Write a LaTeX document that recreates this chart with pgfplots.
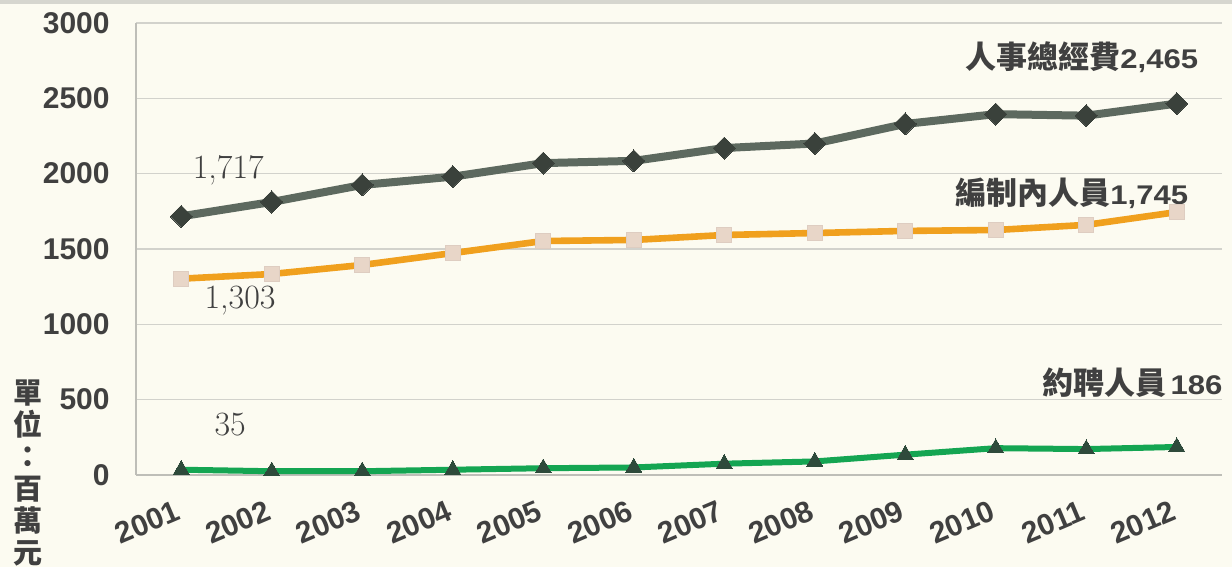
\documentclass[border=0pt]{standalone}
\usepackage{pgfplots}
\pgfplotsset{compat=1.18}
\usepackage{fontspec}
\setmainfont{Liberation Sans}
\newfontfamily\cjk{Noto Sans CJK TC}
\newfontfamily\widesans{Liberation Sans}[FakeStretch=1.15]
\newfontfamily\lmr{Latin Modern Roman}

\definecolor{bgcream}{HTML}{FCFBF1}
\definecolor{topband}{HTML}{D6D6CF}
\definecolor{gridgray}{HTML}{D2D2CC}
\definecolor{axisgray}{HTML}{BEBEB8}
\definecolor{txt}{HTML}{404040}
\definecolor{totline}{HTML}{5D695F}
\definecolor{totmark}{HTML}{3A413B}
\definecolor{orgline}{HTML}{F0A01E}
\definecolor{orgmark}{HTML}{E8D6C8}
\definecolor{conline}{HTML}{14A552}
\definecolor{conmark}{HTML}{2E4A3B}

\newcommand{\anno}[2]{{\cjk\bfseries\fontsize{15.5}{17}\selectfont #1}{\widesans\bfseries\fontsize{13.5}{16}\selectfont #2}}

\begin{document}
\begin{tikzpicture}
\useasboundingbox (0,0) rectangle (616pt,283.5pt);
\fill[bgcream] (0,0) rectangle (616pt,283.5pt);
\fill[topband] (0,281.5pt) rectangle (616pt,283.5pt);

% unit label, one character per line
\node[anchor=north, align=center, text=txt, inner sep=0pt,
      font=\cjk\bfseries\fontsize{14.5}{16}\selectfont]
  at (14pt,94pt) {單\\位\\：\\百\\萬\\元};

\begin{axis}[
  at={(68pt,46pt)}, anchor=south west,
  scale only axis, width=543pt, height=226pt,
  xmin=-0.5, xmax=11.5, ymin=0, ymax=3000,
  axis x line=bottom, axis y line=left,
  axis line style={axisgray, line width=0.8pt, -},
  xtick={0,...,11},
  xticklabels={2001,2002,2003,2004,2005,2006,2007,2008,2009,2010,2011,2012},
  ytick={0,500,...,3000},
  ymajorgrids, grid style={gridgray, line width=0.8pt},
  major tick length=0pt,
  /pgf/number format/1000 sep={},
  /pgf/number format/assume math mode=true,
  tick label style={text=txt, font=\bfseries\fontsize{15}{17}\selectfont},
  yticklabel style={anchor=east, inner sep=0pt, xshift=-13pt},
  xticklabel style={xshift=-3.5pt, yshift=-12pt, rotate=23, anchor=north east, inner sep=0pt},
  clip=false,
]
% contract staff
\addplot[conline, line width=3pt, mark=triangle*, mark size=4.6pt,
  mark options={fill=conmark, draw=conmark, line width=0pt}]
  coordinates {(0,35) (1,25) (2,25) (3,35) (4,45) (5,50) (6,75) (7,90) (8,135) (9,178) (10,172) (11,186)};
% budgeted staff
\addplot[orgline, line width=3.3pt, mark=square*, mark size=3.8pt,
  mark options={fill=orgmark, draw=orgmark!90!gray, line width=0.5pt}]
  coordinates {(0,1303) (1,1334) (2,1394) (3,1473) (4,1553) (5,1560) (6,1593) (7,1606) (8,1620) (9,1626) (10,1660) (11,1745)};
% total personnel expenditure
\addplot[totline, line width=4pt, mark=square*, mark size=3.9pt,
  mark options={fill=totmark, draw=totmark, rotate=45, line width=0pt}]
  coordinates {(0,1717) (1,1812) (2,1925) (3,1980) (4,2070) (5,2085) (6,2170) (7,2200) (8,2330) (9,2395) (10,2385) (11,2465)};

% first-year values
\node[text=txt, font=\lmr\fontsize{17}{19}\selectfont, inner sep=0pt] at (axis cs:0.52,2024) {1,717};
\node[text=txt, font=\lmr\fontsize{17}{19}\selectfont, inner sep=0pt] at (axis cs:0.65,1161) {1,303};
\node[text=txt, font=\lmr\fontsize{17}{19}\selectfont, inner sep=0pt] at (axis cs:0.54,332) {35};

% series names with last-year values
\node[anchor=east, text=txt, inner sep=0pt] at (axis cs:11.24,2774) {\anno{人事總經費}{2,465}};
\node[anchor=east, text=txt, inner sep=0pt] at (axis cs:11.13,1872) {\anno{編制內人員}{1,745}};
\node[anchor=east, text=txt, inner sep=0pt] at (axis cs:11.51,611) {\anno{約聘人員}{\,186}};
\end{axis}
\end{tikzpicture}
\end{document}
